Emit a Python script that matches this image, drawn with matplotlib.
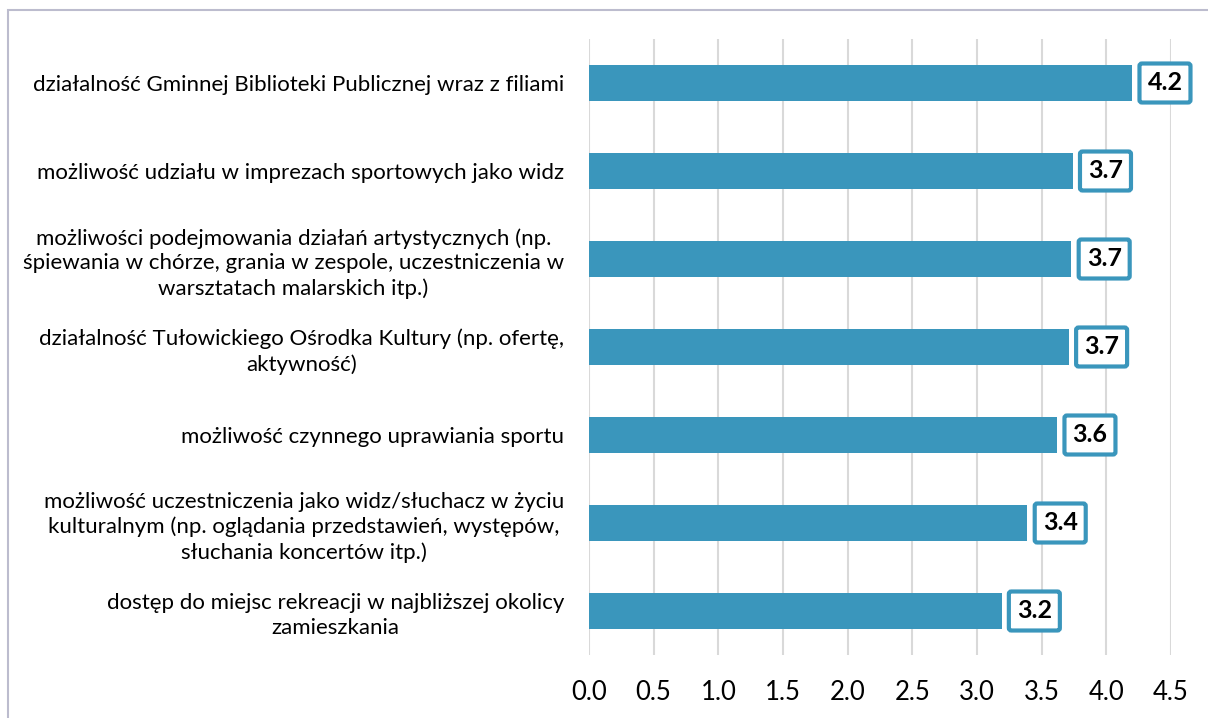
import matplotlib.pyplot as plt
from matplotlib.patches import Rectangle

plt.rcParams['font.family'] = ['Lato', 'DejaVu Sans']

# data
categories = [
    "działalność Gminnej Biblioteki Publicznej wraz z filiami",
    "możliwość udziału w imprezach sportowych jako widz",
    "możliwości podejmowania działań artystycznych (np.\nśpiewania w chórze, grania w zespole, uczestniczenia w\nwarsztatach malarskich itp.)",
    "działalność Tułowickiego Ośrodka Kultury (np. ofertę,\naktywność)",
    "możliwość czynnego uprawiania sportu",
    "możliwość uczestniczenia jako widz/słuchacz w życiu\nkulturalnym (np. oglądania przedstawień, występów,\nsłuchania koncertów itp.)",
    "dostęp do miejsc rekreacji w najbliższej okolicy\nzamieszkania",
]
values = [4.2, 3.74, 3.73, 3.71, 3.62, 3.39, 3.19]
xticks = [0.0, 0.5, 1.0, 1.5, 2.0, 2.5, 3.0, 3.5, 4.0, 4.5]

bar_color = '#3A96BC'

fig = plt.figure(figsize=(12.08, 7.18), dpi=100)
ax = fig.add_axes([589/1208, 1 - 655/718, 582/1208, 616/718])

pos = list(range(len(categories)))
ax.barh(pos, values, height=0.42, color=bar_color, zorder=3)

for p, v in zip(pos, values):
    ax.annotate(f"{v:.1f}", xy=(v, p), xytext=(11, 0), textcoords='offset points',
                ha='left', va='center', fontsize=18, fontweight='bold', color='black',
                bbox=dict(boxstyle='round,pad=0.32,rounding_size=0.1', fc='white',
                          ec=bar_color, lw=3), zorder=4)

ax.set_xlim(0, 4.5)
ax.set_ylim(6.5, -0.5)
ax.set_xticks(xticks)
ax.set_xticklabels([f"{t:.1f}" for t in xticks], fontsize=18.5)
ax.set_yticks(pos)
ax.set_yticklabels(categories, fontsize=16, multialignment='center', linespacing=1.3)
ax.tick_params(axis='both', length=0)
ax.tick_params(axis='y', pad=18)
ax.tick_params(axis='x', pad=18)
ax.grid(axis='x', color='#D9D9D9', lw=1.5, zorder=0)
for s in ax.spines.values():
    s.set_visible(False)

# outer chart border
fig.patches.append(Rectangle((8/1208, -0.1), 1.2, 1 - 10/718 + 0.1, transform=fig.transFigure,
                             fill=False, ec='#BCBCCE', lw=1.5))

plt.savefig("out.png", dpi=100)
